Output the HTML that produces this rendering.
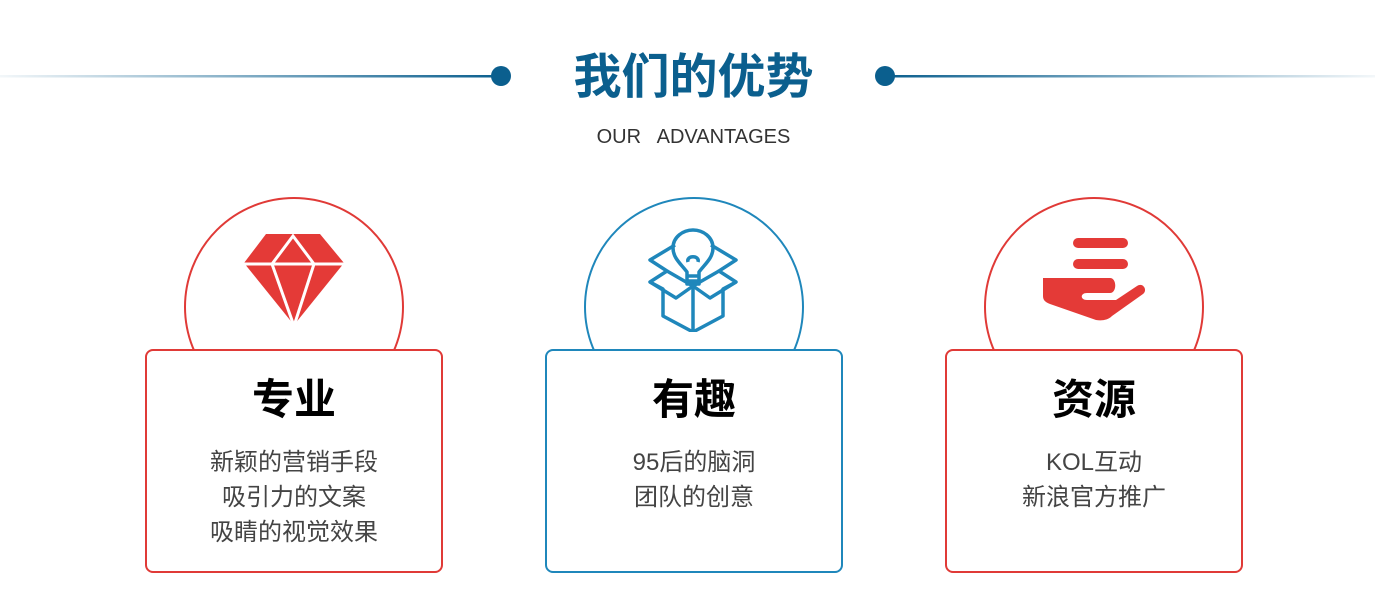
<!DOCTYPE html>
<html><head><meta charset="utf-8"><style>
body{margin:0;width:1375px;height:599px;background:#fff;position:relative;overflow:hidden;font-family:"Liberation Sans","Noto Sans CJK SC",sans-serif}
.ab{position:absolute}
.title{left:0;width:1387px;top:48px;text-align:center;font-size:48px;font-weight:bold;color:#0b5f8e;line-height:60px}
.sub{left:0;width:1387px;top:124px;text-align:center;font-size:20px;color:#333;line-height:26px;white-space:pre}
.circ{width:216px;height:216px;border-radius:50%;border:2.5px solid;background:#fff}
.card{width:294px;height:220px;border:2.5px solid;border-radius:8px;background:#fff;text-align:center}
.card h3{margin:21px 0 0;font-size:42px;line-height:56px;color:#000;font-weight:bold}
.card p{margin:17px 0 0;font-size:24px;line-height:35px;color:#444}
.r{border-color:#e03a37}.b{border-color:#1f87bb}
</style></head><body>
<svg class="ab" style="left:0;top:0" width="1375" height="120">
<defs>
<linearGradient id="gl" x1="0" x2="1"><stop offset="0" stop-color="#0b5f8e" stop-opacity="0.05"/><stop offset="1" stop-color="#0b5f8e"/></linearGradient>
<linearGradient id="gr" x1="1" x2="0"><stop offset="0" stop-color="#0b5f8e" stop-opacity="0.05"/><stop offset="1" stop-color="#0b5f8e"/></linearGradient>
</defs>
<rect x="0" y="75" width="500" height="2.5" fill="url(#gl)"/>
<rect x="886" y="75" width="489" height="2.5" fill="url(#gr)"/>
<circle cx="501" cy="76" r="10" fill="#0b5f8e"/>
<circle cx="885" cy="76" r="10" fill="#0b5f8e"/>
</svg>
<div class="ab title">我们的优势</div>
<div class="ab sub">OUR   ADVANTAGES</div>

<div class="ab circ r" style="left:184px;top:197px"></div>
<div class="ab circ b" style="left:584px;top:197px"></div>
<div class="ab circ r" style="left:984px;top:197px"></div>

<svg class="ab" style="left:240px;top:230px" width="110" height="100">
<polygon points="4,33 26,4 80,4 104,33 54,95" fill="#e43a37"/>
<g stroke="#fff" stroke-width="3" fill="none">
<line x1="0" y1="34" x2="110" y2="34"/>
<polyline points="32,34 53,6 74,34"/>
<line x1="32" y1="34" x2="54" y2="96"/>
<line x1="74" y1="34" x2="54" y2="96"/>
</g>
</svg>

<svg class="ab" style="left:645px;top:226px" width="100" height="106" fill="none" stroke="#1f87bb" stroke-width="3.5" stroke-linejoin="round">
<path d="M42,58 L42,46 C36,38 28,32 28,22 C28,11 38,4 48,4 C58,4 68,11 68,22 C68,32 60,38 54,46 L54,58 Z"/>
<path d="M43,36 C41,29 55,29 53,36"/>
<line x1="43" y1="50" x2="53" y2="50"/><line x1="43" y1="55" x2="53" y2="55"/>
<path d="M30,19 L5,34 L22,45 L5,56 L18,63 L18,90 L48,106 L78,90 L78,63 L91,56 L74,45 L91,34 L66,19"/>
<path d="M22,45 L48,60 L74,45"/>
<path d="M5,56 L31,72 L48,60 L65,72 L91,56"/>
<line x1="48" y1="60" x2="48" y2="106"/>
</svg>

<svg class="ab" style="left:1040px;top:236px" width="110" height="90">
<rect x="33" y="2" width="55" height="10" rx="5" fill="#e43a37"/>
<rect x="33" y="23" width="55" height="10" rx="5" fill="#e43a37"/>
<path d="M3,42 L70,42 C77,42 77,57 70,57 L47,57 C40,57 40,64 47,64 L76,64 L97,50 C103,46 108,54 103,58 L72,80 C68,84 62,85 56,84 L10,68 C5,66 3,64 3,60 Z" fill="#e43a37"/>
</svg>

<div class="ab card r" style="left:145px;top:349px"><h3>专业</h3><p>新颖的营销手段<br>吸引力的文案<br>吸睛的视觉效果</p></div>
<div class="ab card b" style="left:545px;top:349px"><h3>有趣</h3><p>95后的脑洞<br>团队的创意</p></div>
<div class="ab card r" style="left:945px;top:349px"><h3>资源</h3><p>KOL互动<br>新浪官方推广</p></div>
</body></html>
